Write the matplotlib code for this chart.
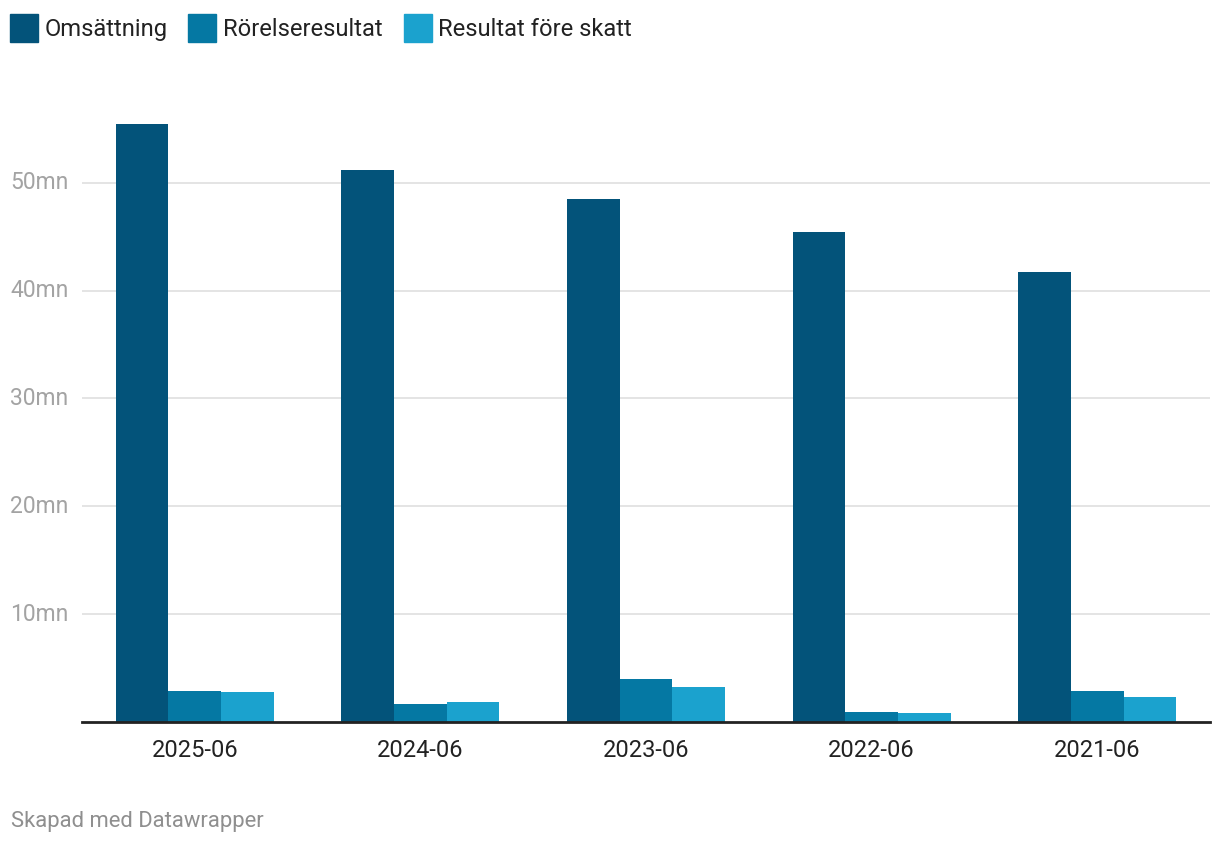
import matplotlib.pyplot as plt
from matplotlib.patches import Rectangle
import numpy as np

plt.rcParams['font.family'] = ['Roboto', 'DejaVu Sans']

# data (mn SEK)
periods = ['2025-06', '2024-06', '2023-06', '2022-06', '2021-06']
omsattning = [55.45, 51.15, 48.5, 45.45, 41.75]
rorelseresultat = [2.87, 1.67, 3.98, 0.93, 2.87]
resultat_fore_skatt = [2.78, 1.85, 3.24, 0.83, 2.31]

series = [('Omsättning', omsattning, '#03537a'),
          ('Rörelseresultat', rorelseresultat, '#0578a3'),
          ('Resultat före skatt', resultat_fore_skatt, '#1ba2ce')]

W, H = 1220, 844
fig = plt.figure(figsize=(W / 100, H / 100), dpi=100)
ax = fig.add_axes([82 / W, 1 - 722 / H, (1210 - 82) / W, (722 - 96.4) / H])

x = np.arange(len(periods))
bw = 0.2335
for i, (name, vals, col) in enumerate(series):
    ax.bar(x + (i - 1) * bw, vals, width=bw, color=col, zorder=3)

ax.set_xlim(-0.5, len(periods) - 0.5)
ax.set_ylim(0, 58)
ax.set_yticks([10, 20, 30, 40, 50])
ax.yaxis.grid(True, color='#e2e2e2', linewidth=1.3, zorder=0)
ax.tick_params(axis='y', length=0, labelleft=False)
ax.set_xticks(x)
ax.set_xticklabels(periods, fontsize=17, color='#222222')
ax.tick_params(axis='x', length=0, pad=12)
for s in ['top', 'right', 'left']:
    ax.spines[s].set_visible(False)
ax.spines['bottom'].set_color('#222222')
ax.spines['bottom'].set_linewidth(2)
ax.spines['bottom'].set_zorder(4)

# y labels on the far left
for v in [10, 20, 30, 40, 50]:
    yf = 1 - (722 - v * 10.786) / H
    fig.text(10 / W, yf, f'{v}mn', fontsize=16.5, color='#a3a3a3', ha='left', va='center')

# legend
legend_pos = [(10, 45), (188, 223), (404, 438)]
for (name, vals, col), (sx, tx) in zip(series, legend_pos):
    fig.add_artist(Rectangle((sx / W, 1 - 42 / H), 28 / W, 28 / H, color=col,
                             transform=fig.transFigure))
    fig.text(tx / W, 1 - 36 / H, name, fontsize=17.1, color='#222222', ha='left', va='baseline')

fig.text(11 / W, 1 - 821 / H, 'Skapad med Datawrapper', fontsize=15.8, color='#8f8f8f',
         ha='left', va='center')

fig.savefig('out.png', dpi=100, facecolor='white')
